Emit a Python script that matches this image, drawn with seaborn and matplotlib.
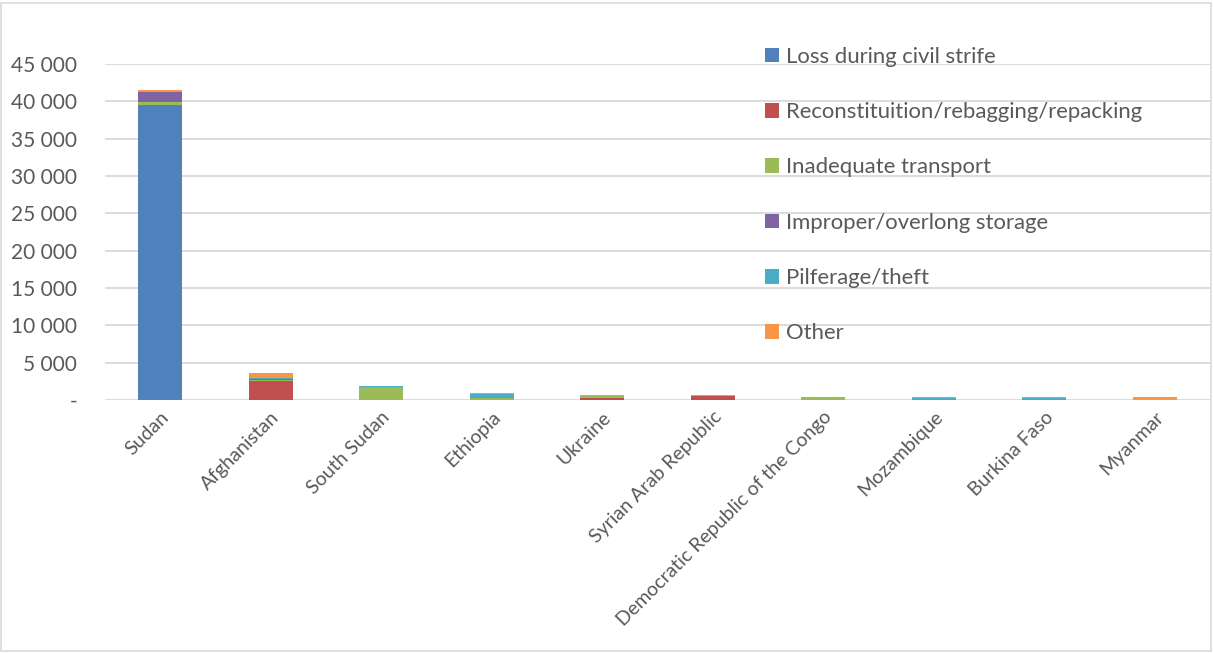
import matplotlib
matplotlib.use("Agg")
import matplotlib.pyplot as plt
import seaborn as sns
import pandas as pd
import numpy as np
from matplotlib.ticker import FuncFormatter

# Данные (оценка по картинке)
countries = ["Sudan", "Afghanistan", "South Sudan", "Ethiopia", "Ukraine",
             "Syrian Arab Republic", "Democratic Republic of the Congo",
             "Mozambique", "Burkina Faso", "Myanmar"]
civil_strife = [39500, 0, 0, 0, 0, 0, 0, 0, 0, 0]
rebagging = [0, 2580, 0, 0, 310, 470, 0, 0, 0, 0]
transport = [450, 130, 1700, 330, 230, 0, 400, 0, 0, 0]
storage = [1260, 150, 0, 0, 0, 0, 30, 0, 0, 0]
pilferage = [0, 150, 150, 430, 0, 0, 0, 230, 300, 0]
other = [310, 670, 70, 150, 150, 230, 20, 200, 80, 360]

series = {
    "Loss during civil strife": civil_strife,
    "Reconstituition/rebagging/repacking": rebagging,
    "Inadequate transport": transport,
    "Improper/overlong storage": storage,
    "Pilferage/theft": pilferage,
    "Other": other,
}
colors = ["#4F81BD", "#C0504D", "#9BBB59", "#8064A2", "#4BACC6", "#F79646"]

df = pd.DataFrame(series, index=countries)
cum = df.cumsum(axis=1)

sns.set_style("white")
plt.rcParams["font.family"] = ["Lato", "DejaVu Sans"]

fig = plt.figure(figsize=(12.13, 6.53), dpi=100)
ax = fig.add_axes([105 / 1213, 1 - 400 / 653, 1105 / 1213, 336 / 653])

# Стек: рисуем накопленные суммы сверху вниз
names = list(series.keys())
for name, col in reversed(list(zip(names, colors))):
    d = pd.DataFrame({"country": countries, "value": cum[name].values})
    sns.barplot(data=d, x="country", y="value", color=col, width=0.4,
                saturation=1, linewidth=0, ax=ax, label=name)

ax.set_ylim(0, 45000)
ax.set_xlim(-0.5, 9.5)
ax.set_yticks(np.arange(0, 45001, 5000))
ax.yaxis.set_major_formatter(FuncFormatter(
    lambda v, p: "-" if v == 0 else f"{int(v):,}".replace(",", " ")))
ax.grid(axis="y", color="#d9d9d9", linewidth=1.3)
ax.set_axisbelow(True)
for s in ax.spines.values():
    s.set_visible(False)
ax.tick_params(axis="both", length=0, colors="#595959", labelsize=15)
ax.tick_params(axis="y", pad=20)
ax.tick_params(axis="x", pad=6)
ax.set_xlabel("")
ax.set_ylabel("")
plt.setp(ax.get_xticklabels(), rotation=45, ha="right", rotation_mode="anchor",
         fontsize=14)

handles, labels = ax.get_legend_handles_labels()
order = [labels.index(n) for n in names]
leg = ax.legend([handles[i] for i in order], [labels[i] for i in order],
                loc="upper left", bbox_to_anchor=(756 / 1213, 1 - 38 / 653),
                bbox_transform=fig.transFigure, frameon=False, fontsize=15.9,
                handlelength=0.65, handleheight=0.65, handletextpad=0.3,
                labelspacing=1.6, borderaxespad=0)
for t in leg.get_texts():
    t.set_color("#595959")

fig.add_artist(plt.Rectangle((1 / 1213, 2 / 653), 1210 / 1213, 648 / 653,
                             transform=fig.transFigure, fill=False,
                             ec="#d9d9d9", lw=1.2))

fig.savefig("out.png", dpi=100)
